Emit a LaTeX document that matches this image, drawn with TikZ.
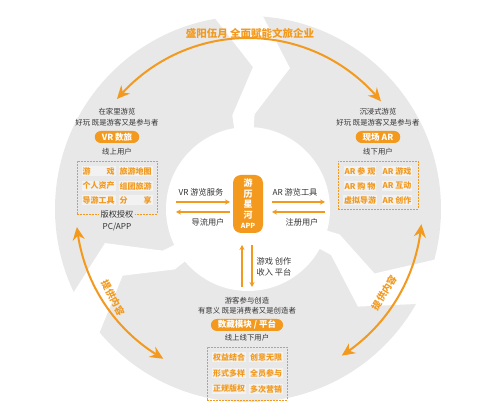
\documentclass[tikz,border=0pt]{standalone}
\usepackage{fontspec}
\setmainfont{Noto Sans CJK SC}
\usetikzlibrary{arrows.meta,bending,calc}
\definecolor{bggray}{RGB}{232,232,232}
\definecolor{cellbg}{RGB}{242,242,242}
\definecolor{myorange}{RGB}{243,154,30}
\definecolor{txtdark}{RGB}{51,51,51}
\newcommand\mygap[1]{%
  \fill[white] ({-(#1+99.75)}:215) -- ({-(#1+99.75)}:193) -- ({-(#1+88)}:142) -- ({-(#1+99.5)}:95) -- ({-(#1+100)}:70)
   -- ({-(#1+86)}:70) -- ({-(#1+86)}:95) -- ({-(#1+73.4)}:147) -- ({-(#1+85.5)}:193) -- ({-(#1+85.5)}:215) -- cycle;}
\begin{document}
\begin{tikzpicture}[x=1pt,y=-1pt,
  dark/.style={text=txtdark,font=\fontsize{7.4}{8}\selectfont,inner sep=0.5pt},
  mid/.style={text=txtdark,font=\fontsize{8.2}{9}\selectfont,inner sep=0.5pt},
  cell/.style={text=myorange,font=\bfseries\fontsize{8}{9}\selectfont,fill=cellbg,inner sep=1pt},
  pill/.style={fill=myorange,text=white,font=\bfseries\fontsize{8.5}{9}\selectfont,rounded corners=6pt,minimum height=12pt,inner xsep=7pt,inner ysep=0pt},
  dbox/.style={draw=myorange,dashed,dash pattern=on 1.6pt off 1.4pt,line width=0.7pt,inner sep=0pt},
  bigarrow/.style={draw=myorange,line width=2pt,{Stealth[length=13pt,width=12pt,bend]}-{Stealth[length=13pt,width=12pt,bend]}},
  thinarrow/.style={draw=myorange,line width=1.1pt,-{Stealth[length=5pt,width=5pt]}},
  arclabel/.style={text=myorange,font=\bfseries\fontsize{9.5}{10}\selectfont,inner sep=0pt},
]
\useasboundingbox (0,0) rectangle (499,419);
\coordinate (C) at (248,209);
\fill[bggray] (C) circle[radius=193];
\fill[white] (C) circle[radius=82];
\begin{scope}[shift={(248,209)}]
  \mygap{0}
  \mygap{120}
  \mygap{245}
\end{scope}

% title and arcs
\node[text=myorange,font=\bfseries\fontsize{10.5}{11}\selectfont,inner sep=0pt] (title) at (250,33) {盛阳伍月 全面赋能文旅企业};
\coordinate (topA) at ($(C)+(-140:171)$);
\draw[bigarrow] (topA) arc[start angle=-140, end angle=-39, radius=171];
\coordinate (leftA) at ($(C)+(-186:172)$);
\draw[bigarrow] (leftA) arc[start angle=-186, end angle=-240.5, radius=172];
\coordinate (rightA) at ($(C)+(5:174)$);
\draw[bigarrow] (rightA) arc[start angle=5, end angle=57.4, radius=174];
\node[arclabel,rotate=-62] (lab1) at (113,298) {提供内容};
\node[arclabel,rotate=58] (lab2) at (384,293) {提供内容};

% left section
\node[dark] (l1) at (117,112) {在家里游览};
\node[dark] (l2) at (117,123) {好玩 既是游客又是参与者};
\node[pill] (lp) at (117,137) {VR 数旅};
\node[dark] (l3) at (117,152) {线上用户};
\node[dbox,minimum width=80pt,minimum height=53pt] (lbox) at (117,187.5) {};
\node[cell] (lc1) at (98.5,171) {游\hspace{2em}戏};
\node[cell] (lc2) at (135.5,171) {旅游地图};
\node[cell] (lc3) at (98.5,186) {个人资产};
\node[cell] (lc4) at (135.5,186) {组团旅游};
\node[cell] (lc5) at (98.5,200) {导游工具};
\node[cell] (lc6) at (135.5,200) {分\hspace{2em}享};
\node[mid,fill=bggray,inner xsep=2pt] (lcopy) at (117,214) {版权授权};
\node[mid] (lpc) at (117,227) {PC/APP};

% right section
\node[dark] (r1) at (378,112) {沉浸式游览};
\node[dark] (r2) at (378,123) {好玩 既是游客又是参与者};
\node[pill] (rp) at (378,137) {现场 AR};
\node[dark] (r3) at (378,152) {线下用户};
\node[dbox,minimum width=80pt,minimum height=48pt] (rbox) at (378,185) {};
\node[cell] (rc1) at (360,171) {AR 参 观};
\node[cell] (rc2) at (397,171) {AR 游戏};
\node[cell] (rc3) at (360,186) {AR 购 物};
\node[cell] (rc4) at (397,186) {AR 互动};
\node[cell] (rc5) at (360,200) {虚拟导游};
\node[cell] (rc6) at (397,200) {AR 创作};

% bottom section
\node[dark] (b1) at (247,301) {游客参与创造};
\node[dark] (b2) at (247,311) {有意义 既是消费者又是创造者};
\node[pill] (bp) at (247,325) {数藏模块 / 平台};
\node[dark] (b3) at (247,338) {线上线下用户};
\node[dbox,minimum width=80pt,minimum height=53pt] (bbox) at (247,373.5) {};
\node[cell] (bc1) at (229,357) {权益结合};
\node[cell] (bc2) at (266,357) {创意无限};
\node[cell] (bc3) at (229,373) {形式多样};
\node[cell] (bc4) at (266,373) {全员参与};
\node[cell] (bc5) at (229,389) {正规版权};
\node[cell] (bc6) at (266,389) {多次营销};

% center
\node[fill=myorange,rounded corners=8pt,minimum width=30pt,minimum height=58pt,inner sep=0pt,text=white,
  font=\bfseries\fontsize{9}{10.5}\selectfont,align=center] (app) at (248,204)
  {游\\历\\星\\河\\{\fontsize{7}{10.5}\selectfont APP}};
\coordinate (vr1) at (176,202); \coordinate (vr2) at (230,202);
\coordinate (vr3) at (230,212); \coordinate (vr4) at (176,212);
\coordinate (ar1) at (272,202); \coordinate (ar2) at (325,202);
\coordinate (ar3) at (325,212); \coordinate (ar4) at (272,212);
\coordinate (v1) at (242,287); \coordinate (v2) at (242,245);
\coordinate (v3) at (252,245); \coordinate (v4) at (252,287);
\draw[thinarrow] (vr1) -- (vr2);
\draw[thinarrow] (vr3) -- (vr4);
\draw[thinarrow] (ar1) -- (ar2);
\draw[thinarrow] (ar3) -- (ar4);
\draw[thinarrow] (v1) -- (v2);
\draw[thinarrow] (v3) -- (v4);
\node[mid] (t1) at (201,192) {VR 游览服务};
\node[mid] (t2) at (208,222) {导流用户};
\node[mid] (t3) at (295,192) {AR 游览工具};
\node[mid] (t4) at (302,222) {注册用户};
\node[mid] (t5) at (274,261) {游戏 创作};
\node[mid] (t6) at (274,272) {收入 平台};
\end{tikzpicture}
\end{document}
